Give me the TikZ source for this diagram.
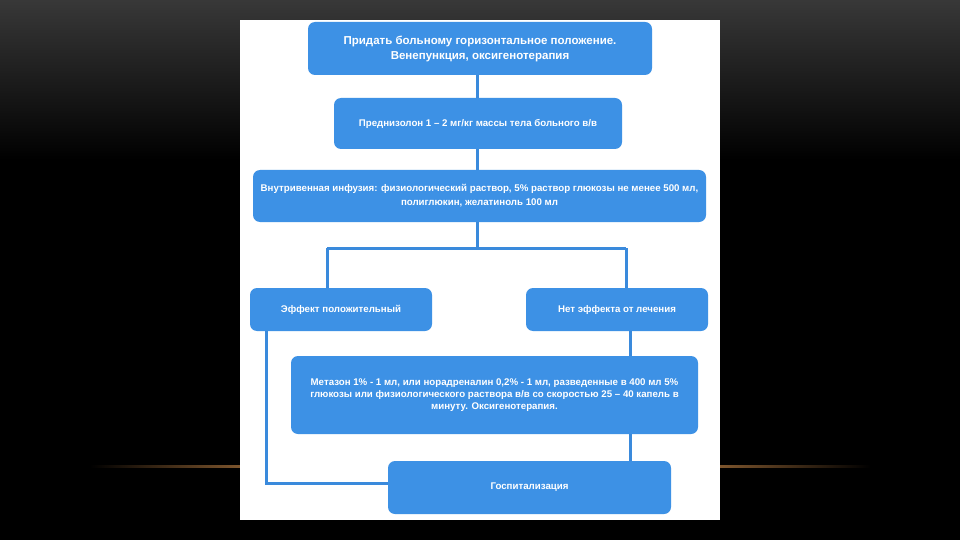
\documentclass[tikz,border=0pt]{standalone}
\usepackage{fontspec}
\setmainfont{Liberation Sans}
\usetikzlibrary{positioning}
\usetikzlibrary{calc}
\definecolor{boxblue}{RGB}{61,145,229}
\definecolor{lineblue}{RGB}{58,138,220}
\definecolor{slatetop}{RGB}{56,56,56}
\definecolor{glow}{RGB}{125,85,45}

\begin{document}
\begin{tikzpicture}[
			x=1pt, y=-1pt,
			stepbox/.style={rectangle, rounded corners=7pt, fill=boxblue, text=white, font=\bfseries\fontsize{9.7}{14}\selectfont, align=center, inner sep=0pt},
			link/.style={draw=lineblue, line width=3pt}
		]
			\useasboundingbox (0,0) rectangle (960,540);
			\fill[black] (0,0) rectangle (960,540);
			\shade[top color=slatetop, bottom color=black] (0,0) rectangle (960,160);
			\shade[left color=black, right color=glow] (90,465) rectangle (240,467);
			\shade[left color=glow, right color=black] (720,465) rectangle (870,467);
			\fill[white] (240,20) rectangle (720,520);

			\node[stepbox, minimum width=344pt, minimum height=53pt, font=\bfseries\fontsize{11.5}{15}\selectfont] (pos) at (480,48.5) {Придать больному горизонтальное положение.\\Венепункция, оксигенотерапия};
			\node[stepbox, minimum width=288pt, minimum height=51pt] (pred) at (478,123.5) {Преднизолон 1 – 2 мг/кг массы тела больного в/в};
			\node[stepbox, minimum width=453pt, minimum height=52pt] (inf) at (479.5,196) {Внутривенная инфузия: физиологический раствор, 5\% раствор глюкозы не менее 500 мл,\\полиглюкин, желатиноль 100 мл};
			\node[stepbox, minimum width=182pt, minimum height=43pt] (yes) at (341,309.5) {Эффект положительный};
			\node[stepbox, minimum width=182pt, minimum height=43pt] (no) at (617,309.5) {Нет эффекта от лечения};
			\node[stepbox, minimum width=407pt, minimum height=78pt, font=\bfseries\fontsize{9.7}{12}\selectfont] (met) at (494.5,395) {Метазон 1\% - 1 мл, или норадреналин 0,2\% - 1 мл, разведенные в 400 мл 5\%\\глюкозы или физиологического раствора в/в со скоростью 25 – 40 капель в\\минуту. Оксигенотерапия.};
			\node[stepbox, minimum width=283pt, minimum height=53pt] (hosp) at (529.5,487.5) {Госпитализация};

			\coordinate (fork) at (477,248);
			\coordinate (forkL) at (327,248);
			\coordinate (forkR) at (626,248);
			\coordinate (lx) at (266,0);
			\coordinate (rx) at (630,0);

			\draw[link] (pos.south -| fork) -- (pred.north -| fork);
			\draw[link] (pred.south -| fork) -- (inf.north -| fork);
			\draw[link] (inf.south -| fork) -- (fork);
			\draw[link] (forkL) -- (forkR);
			\draw[link] (forkL) -- (forkL |- yes.north);
			\draw[link] (forkR) -- (forkR |- no.north);
			\draw[link] (no.south -| rx) -- (met.north -| rx);
			\draw[link] (met.south -| rx) -- (hosp.north -| rx);
			\draw[link] (yes.south -| lx) |- ([yshift=4pt]hosp.west);
		\end{tikzpicture}
\end{document}
